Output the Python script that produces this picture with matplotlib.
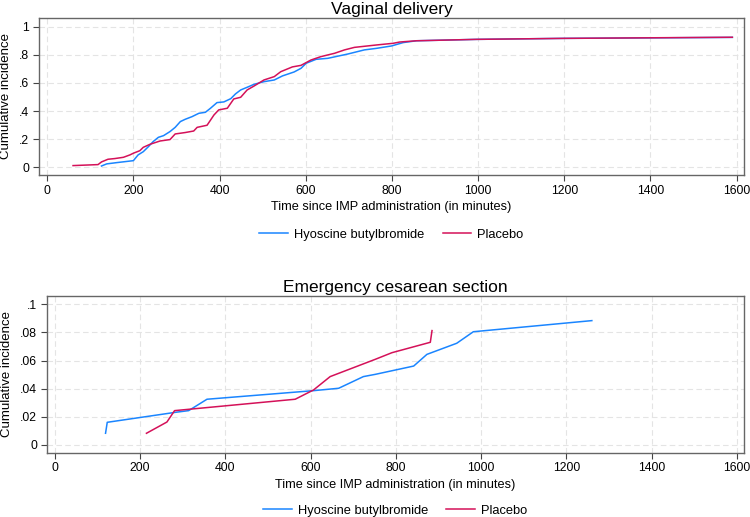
import matplotlib
matplotlib.use('Agg')
import matplotlib.pyplot as plt
import matplotlib.ticker as mtick

plt.rcParams['font.family'] = ['Liberation Sans', 'DejaVu Sans']

# vaginal delivery, cumulative incidence (time in minutes)
vd_hyo_t = [126, 138, 161, 200, 211, 223, 235, 246, 258, 270, 285, 297, 309, 320, 336,
            352, 367, 379, 394, 410, 426, 437, 449, 464, 480, 503, 527, 546, 573, 589,
            601, 624, 651, 698, 736, 764, 799, 826, 857, 997, 1199, 1590]
vd_hyo_v = [0.009, 0.024, 0.033, 0.047, 0.088, 0.111, 0.147, 0.183, 0.213, 0.225, 0.254,
            0.284, 0.325, 0.341, 0.360, 0.384, 0.391, 0.420, 0.460, 0.465, 0.488, 0.522,
            0.550, 0.569, 0.590, 0.609, 0.621, 0.650, 0.678, 0.704, 0.740, 0.768, 0.775,
            0.806, 0.835, 0.846, 0.863, 0.887, 0.900, 0.910, 0.917, 0.924]
vd_pla_t = [60, 118, 126, 141, 157, 177, 192, 200, 215, 223, 239, 262, 285, 297, 320,
            340, 348, 371, 387, 398, 418, 433, 449, 464, 480, 503, 527, 542, 569, 589,
            612, 635, 667, 690, 713, 764, 803, 818, 857, 997, 1199, 1590]
vd_pla_v = [0.012, 0.019, 0.038, 0.057, 0.062, 0.071, 0.088, 0.100, 0.118, 0.142, 0.164,
            0.187, 0.197, 0.237, 0.247, 0.258, 0.284, 0.299, 0.372, 0.408, 0.420, 0.486,
            0.498, 0.550, 0.578, 0.621, 0.645, 0.680, 0.714, 0.725, 0.763, 0.787, 0.811,
            0.835, 0.853, 0.870, 0.882, 0.891, 0.900, 0.910, 0.917, 0.925]

# emergency cesarean section
cs_hyo_t = [119, 123, 283, 314, 357, 607, 666, 724, 752, 842, 873, 943, 982, 1260]
cs_hyo_v = [0.0083, 0.0161, 0.0232, 0.0244, 0.0325, 0.0386, 0.0403, 0.0486, 0.0502,
            0.0561, 0.0644, 0.0723, 0.0805, 0.0884]
cs_pla_t = [215, 263, 281, 564, 607, 646, 752, 791, 881, 885]
cs_pla_v = [0.0083, 0.0163, 0.0244, 0.0325, 0.0391, 0.0486, 0.0609, 0.0656, 0.0730, 0.0813]

xticks = [0, 200, 400, 600, 800, 1000, 1200, 1400, 1600]
vd_yticks = [0, 0.2, 0.4, 0.6, 0.8, 1.0]
cs_yticks = [0, 0.02, 0.04, 0.06, 0.08, 0.1]

blue = '#1a85ff'
red = '#d41159'


def fmt(v, pos):
    if v == 0:
        return '0'
    s = ('%.2f' % v).rstrip('0').rstrip('.')
    return s[1:] if s.startswith('0') else s


def style(ax, title, yticks, ylim, legy):
    ax.set_title(title, fontsize=12.5, pad=3)
    ax.set_xlim(-19, 1617)
    ax.set_ylim(*ylim)
    ax.set_xticks(xticks)
    ax.set_yticks(yticks)
    ax.yaxis.set_major_formatter(mtick.FuncFormatter(fmt))
    ax.grid(True, color='#e4e4e4', ls=(0, (5, 3)), lw=0.8)
    ax.set_axisbelow(True)
    ax.tick_params(labelsize=8.8, length=4, color='#444444', pad=3)
    for sp in ax.spines.values():
        sp.set_color('#666666')
        sp.set_linewidth(1.0)
    ax.set_xlabel('Time since IMP administration (in minutes)', fontsize=9.2, labelpad=3)
    ax.set_ylabel('Cumulative incidence', fontsize=9.5, labelpad=5)
    ax.legend(loc='center', bbox_to_anchor=(0.5, legy), ncol=2, frameon=False,
              fontsize=9.3, handlelength=2.2, handletextpad=0.5, columnspacing=1.4)


fig = plt.figure(figsize=(7.5, 5.17), dpi=100)
ax1 = fig.add_axes([0.052, 0.6615, 0.940, 0.3037])
ax2 = fig.add_axes([0.0623, 0.1244, 0.9297, 0.3036])

ax1.plot(vd_hyo_t, vd_hyo_v, color=blue, lw=1.1, label='Hyoscine butylbromide')
ax1.plot(vd_pla_t, vd_pla_v, color=red, lw=1.1, label='Placebo')
style(ax1, 'Vaginal delivery', vd_yticks, (-0.055, 1.062), -0.38)

ax2.plot(cs_hyo_t, cs_hyo_v, color=blue, lw=1.1, label='Hyoscine butylbromide')
ax2.plot(cs_pla_t, cs_pla_v, color=red, lw=1.1, label='Placebo')
style(ax2, 'Emergency cesarean section', cs_yticks, (-0.0055, 0.1061), -0.37)

plt.savefig('out.png', dpi=100)
